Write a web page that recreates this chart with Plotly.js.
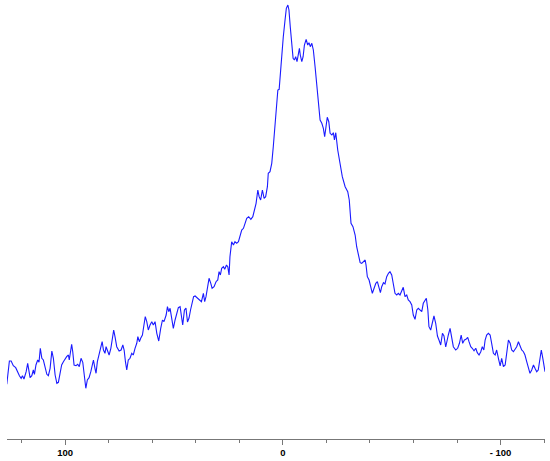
<!DOCTYPE html>
<html>
<head>
<meta charset="utf-8">
<script src="https://cdn.plot.ly/plotly-3.0.1.min.js"></script>
<style>html,body{margin:0;padding:0;background:#fff;}#chart{width:550px;height:461px;}</style>
</head>
<body>
<div id="chart"></div>
<script>
// chemical shift (ppm)
const shift = [126.8,126.5,125.6,124.8,123.8,122.7,121.9,121.0,120.2,119.6,118.9,117.9,117.2,116.6,116.1,115.3,114.6,114.1,113.4,112.6,112.0,111.4,110.7,110.0,109.2,108.4,107.7,106.9,106.1,105.4,104.6,103.8,103.1,102.3,101.6,100.8,100.0,99.3,98.5,98.1,97.4,97.0,96.5,95.9,95.0,94.2,93.5,92.7,91.9,91.3,90.5,89.8,89.0,88.2,87.5,87.0,86.3,
85.8,85.2,84.4,83.6,83.0,82.4,81.7,81.2,80.6,79.8,79.0,78.3,77.7,77.1,76.3,75.2,74.3,73.5,72.9,72.3,71.7,71.0,70.2,69.4,68.7,67.9,67.1,66.6,65.9,65.3,64.5,63.8,63.2,62.5,61.8,61.0,60.2,59.5,58.7,57.9,57.0,56.1,55.3,54.6,53.6,53.0,52.4,51.8,51.0,50.3,49.5,48.7,48.0,47.2,
46.0,45.2,44.5,43.8,43.1,42.4,41.7,41.0,40.3,39.3,38.4,37.4,36.5,35.9,35.3,34.7,33.9,33.1,32.5,31.6,30.7,29.9,29.3,28.7,28.1,27.3,26.7,25.9,25.3,24.7,24.3,23.5,22.7,22.0,21.2,20.4,19.7,18.9,18.1,17.4,16.6,15.7,14.7,13.8,13.1,12.3,11.5,10.9,10.2,9.4,8.6,7.9,7.1,6.7,5.9,5.1,4.4,3.6,2.8,2.3,1.7,1.1,0.5,
-0.2,-1.0,-1.6,-2.3,-2.8,-3.4,-4.1,-4.7,-5.3,-5.9,-6.5,-7.1,-7.6,-8.0,-8.7,-9.3,-9.9,-10.7,-11.4,-12.0,-12.6,-13.3,-14.0,-14.8,-15.6,-16.3,-17.1,-17.9,-18.6,-19.2,-19.8,-20.4,-21.1,-21.7,-22.5,-23.2,-23.7,-24.3,-25.2,-26.3,-27.3,-28.6,-29.8,-30.5,-31.3,-32.2,-33.2,-33.9,-34.7,-35.5,-36.2,-37.0,-37.8,-38.2,-38.8,-39.6,-40.4,-41.1,-41.9,-42.7,-43.4,-44.2,-44.8,-45.4,-46.2,-46.9,-47.7,-48.5,-49.2,-50.0,-50.8,-51.5,-52.3,-53.0,-53.8,-54.6,-55.3,-56.1,-56.9,-57.6,-58.4,-59.2,-59.9,-60.7,-61.5,-62.2,-63.0,-63.8,-64.5,-65.3,-65.9,-66.6,-67.1,-67.9,-68.7,-69.4,-70.2,-71.0,-71.7,-72.5,-73.3,-74.0,-74.8,-75.6,-76.0,-76.8,-77.6,-78.3,-79.4,-80.3,-81.1,-81.9,-82.6,-83.4,-84.1,-84.9,-85.5,-86.3,-87.0,-87.8,-88.6,-89.3,-90.1,-90.9,-91.6,-92.3,-92.9,-93.6,-94.4,-95.2,-95.9,-96.7,-97.5,-98.2,-99.0,-99.8,-100.5,-101.3,-102.1,-102.8,-103.6,-104.4,-105.1,-105.9,-106.7,-107.4,-108.2,-108.9,-109.7,-110.5,-111.2,-112.0,-112.8,-113.5,-114.3,-115.1,-115.8,-116.6,-117.3,-118.1,-118.7,-119.4,-120.0,-120.4];
// intensity (arbitrary units)
const intensity = [54.7,61,78,78,73.3,71.3,67.3,63.3,60.7,63.3,60,67.3,75.7,69,61.3,63.3,69,64.7,74,79,76.7,90.7,80.7,79,70.7,64.7,63.3,70.7,88,80.7,64,55.7,56.7,65.7,74,77.3,80.7,82.3,84,79,89,94.7,87.3,74,73.3,74.7,72.3,80.7,76.7,67.3,50.7,59,61.3,67.3,74,79,70.7,
65.7,77.3,84,92.3,97.3,89,85.7,92.3,89,84,90.7,102.3,109,102.3,92.3,88,89,94,89,77.3,69,79,80.7,85.7,84,90.7,95.7,102.3,97.3,100.7,104,114,122.3,117.3,109,114,117.3,114,117.3,105.7,98,110.7,119,117.3,124,132.3,127.3,130.7,120.7,110.7,119,127.3,131.3,132.3,
114,129,131,117,121,129,137,142.3,143,140.7,139,137.3,145.7,137.3,142.3,152.3,160.7,155.7,150.7,152.3,157.3,159,167.3,164,170.7,172.3,169.7,174,172.3,164,182.3,197.3,194,197.3,195.7,197.3,204,209,210.7,215.7,220.7,222.3,219.7,222.3,229,235.7,249,242.3,239,249,240.7,242.3,252.3,265.7,267.3,275.7,292.3,312.3,339,349,349.7,369,382.3,
402.3,419,430.7,434,429,412.3,392.3,380.7,379,382.3,377.3,385.7,390.7,384,377.3,382.3,394,399.7,394,396.3,392.3,395.7,389,372.3,352.3,339,319,315.7,310.7,302.3,312.3,321.7,317.3,305.7,304,306.3,299,306.3,289,275.7,262.3,252.3,247.3,239,215.7,212.3,204,192.3,182.3,176.3,175.7,177.3,179,174,162.3,159,150.7,145.7,150.7,155.7,157.3,152.3,146.3,152.3,156.3,155,162.3,165.7,167.3,164,155.7,145.7,144,145.7,144,149,151.7,142.3,144,139,137.3,134,124,119.7,129,130.7,129,127.3,135.7,139,140.7,129,112.3,109,117.3,123,115.7,103,99,94,105.7,103,92,103,104,110.7,99,92.3,89,90.7,95.7,104,95.7,99,99.7,101.7,97.3,92.3,90.7,88.3,90.7,86.3,84,87.3,92.3,89,99,104,105.7,104,95.7,85.7,84,89,80.7,73,80.7,72.3,74,89,99,95.7,89,87.3,89.7,92.3,97.3,94,89,87.3,84,77.3,70.7,65.7,69,74,70.7,67.3,69,82.3,89,80.7,69,67.3];
const tickVals = [100, 0, -100];
const tickText = ["100", "0", "- 100"];

const trace = {
  x: shift, y: intensity, type: 'scatter', mode: 'lines',
  line: {color: '#1a1aff', width: 1.1}, hoverinfo: 'skip'
};
const layout = {
  width: 550, height: 461,
  margin: {l: 7, r: 5, t: 0, b: 22},
  paper_bgcolor: '#fff', plot_bgcolor: '#fff',
  showlegend: false,
  xaxis: {
    range: [126.7, -120.4], autorange: false,
    showgrid: false, zeroline: false,
    showline: true, linecolor: '#777', linewidth: 1,
    ticks: 'outside', ticklen: 5, tickcolor: '#777', tickwidth: 1,
    tickmode: 'array', tickvals: tickVals, ticktext: tickText,
    tickfont: {family: 'Liberation Sans, Arial, sans-serif', size: 9.5, color: '#000', weight: 'bold'},
    minor: {tickmode: 'linear', tick0: 0, dtick: 20, ticks: 'outside', ticklen: 3, tickcolor: '#777', tickwidth: 1, showgrid: false}
  },
  yaxis: {range: [0, 439], autorange: false, visible: false, showgrid: false, zeroline: false}
};
Plotly.newPlot('chart', [trace], layout, {staticPlot: true, displayModeBar: false});
</script>
</body>
</html>
